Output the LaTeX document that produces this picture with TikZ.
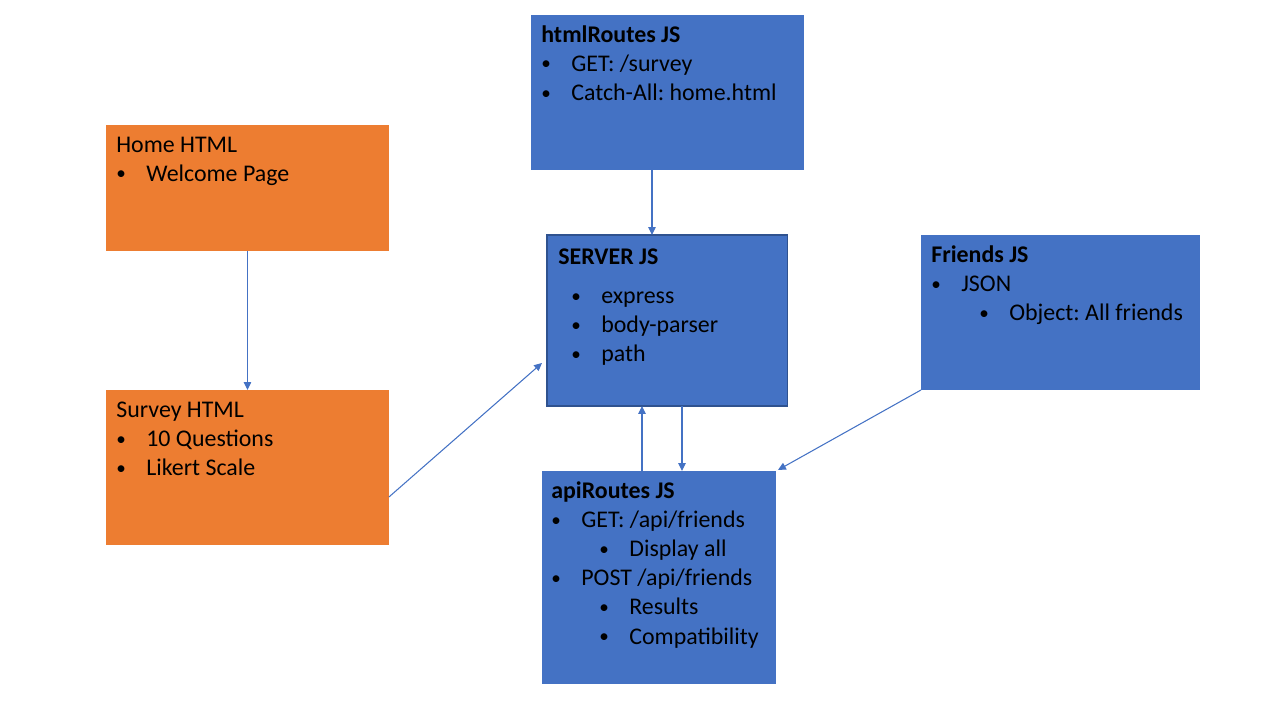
\documentclass[tikz,border=0pt]{standalone}
\usepackage{fontspec}
\setmainfont{Carlito}
\usepackage{tikz}
\usetikzlibrary{positioning,calc,arrows.meta}
\frenchspacing

\definecolor{boxorange}{HTML}{ED7D31}
\definecolor{boxblue}{HTML}{4472C4}
\definecolor{edgeblue}{HTML}{2F528F}

% bullet line, optional indent
\newcommand{\bul}[2][0cm]{\hspace*{#1}\makebox[0.6cm][l]{\raisebox{0.06em}{\scalebox{0.8}{\textbullet}}}#2}
\newcommand{\subbul}[1]{\bul[0.96cm]{#1}}

\tikzset{
  box/.style={rectangle, anchor=north west, inner sep=0pt, outer sep=0pt},
  pagebox/.style={box, fill=boxorange},
  jsbox/.style={box, fill=boxblue},
  txt/.style={anchor=north west, inner sep=0pt, align=left,
    font=\fontsize{13.6}{16.6}\selectfont},
  link/.style={draw=boxblue, line width=0.6pt, -{Triangle[length=4.5pt,width=4.2pt]}}
}

\begin{document}
\begin{tikzpicture}[x=0.02cm,y=-0.02cm]
    \useasboundingbox (0,0) rectangle (1280,720);

    % boxes
    \node[pagebox, minimum width=5.66cm, minimum height=2.52cm] (home) at (106,125) {};
    \node[pagebox, minimum width=5.66cm, minimum height=3.10cm] (survey) at (106,390) {};
    \node[jsbox, minimum width=5.46cm, minimum height=3.10cm] (htmlroutes) at (531,15) {};
    \node[jsbox, draw=edgeblue, line width=0.6pt, minimum width=4.82cm, minimum height=3.42cm] (server) at (547,235) {};
    \node[jsbox, minimum width=5.58cm, minimum height=3.10cm] (friends) at (921,235) {};
    \node[jsbox, minimum width=4.68cm, minimum height=4.26cm] (apiroutes) at (542,471) {};

    % texts
    \node[txt, below right=0.13cm and 0.2cm of home.north west] (home-txt)
        {\strut Home HTML\\ \bul{Welcome Page}};
    \node[txt, below right=0.13cm and 0.2cm of survey.north west] (survey-txt)
        {\strut Survey HTML\\ \bul{10 Questions}\\ \bul{Likert Scale}};
    \node[txt, below right=0.13cm and 0.2cm of htmlroutes.north west] (htmlroutes-txt)
        {\strut\textbf{htmlRoutes JS}\\ \bul{GET: /survey}\\ \bul{Catch-All: home.html}};
    \node[txt, below right=0.17cm and 0.22cm of server.north west] (server-txt)
        {\strut\textbf{SERVER JS}\\[0.2cm] \bul[0.26cm]{express}\\ \bul[0.26cm]{body-parser}\\ \bul[0.26cm]{path}};
    \node[txt, below right=0.13cm and 0.2cm of friends.north west] (friends-txt)
        {\strut\textbf{Friends JS}\\ \bul{JSON}\\ \subbul{Object: All friends}};
    \node[txt, below right=0.13cm and 0.18cm of apiroutes.north west] (apiroutes-txt)
        {\strut\textbf{apiRoutes JS}\\ \bul{GET: /api/friends}\\ \subbul{Display all}\\
         \bul{POST /api/friends}\\ \subbul{Results}\\ \subbul{Compatibility}};

    % connectors
    \draw[link] (home) -- (survey);
    \draw[link] ($(htmlroutes.south)+(-15.5,0)$) coordinate (hr) -- (hr |- server.north);
    \draw[link] ($(server.south)+(14.5,0)$) coordinate (sd) -- (sd |- apiroutes.north);
    \draw[link] ($(apiroutes.north)+(-17,0)$) coordinate (au) -- (au |- server.south);
    \draw[link] ($(survey.south east)+(0,-48)$) -- ($(server.south west)+(-5,-43)$);
    \draw[link] (friends.south west) -- ($(apiroutes.north east)+(2,-1)$);
\end{tikzpicture}
\end{document}
